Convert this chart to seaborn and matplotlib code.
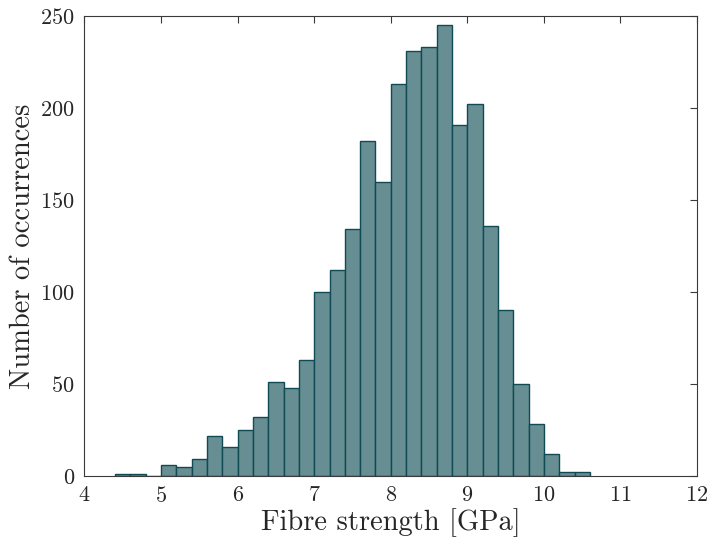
import numpy as np
import pandas as pd
import matplotlib
matplotlib.use("Agg")
import matplotlib.pyplot as plt
import seaborn as sns

# Data: histogram of fibre strength (bin width 0.2 GPa, first bin starts at 4.4 GPa)
bin_start = 4.4
bin_width = 0.2
counts = [1, 1, 0, 6, 5, 9, 22, 16, 25, 32, 51, 48, 63, 100, 112, 134, 182, 160,
          213, 231, 233, 245, 191, 202, 136, 90, 50, 28, 12, 2, 2]
x_ticks = [4, 5, 6, 7, 8, 9, 10, 11, 12]
y_ticks = [0, 50, 100, 150, 200, 250]
x_label = "Fibre strength [GPa]"
y_label = "Number of occurrences"

n_bins = len(counts)
centers = bin_start + bin_width * (np.arange(n_bins) + 0.5)
df = pd.DataFrame({"strength": centers, "count": counts})

sns.set_style("white")
plt.rcParams["font.family"] = "serif"
plt.rcParams["font.serif"] = ["cmr10"]
plt.rcParams["mathtext.fontset"] = "cm"
plt.rcParams["axes.formatter.use_mathtext"] = True

fig = plt.figure(figsize=(7.13, 5.44), dpi=100)
ax = fig.add_axes([0.1185, 0.125, 0.8591, 0.8456])

sns.histplot(data=df, x="strength", weights="count",
             binwidth=bin_width, binrange=(bin_start, bin_start + bin_width * n_bins),
             ax=ax, color="#678e92", alpha=1.0, edgecolor="#0f4a55", linewidth=1.0)

ax.set_xlim(4, 12)
ax.set_ylim(0, 250)
ax.set_xticks(x_ticks)
ax.set_yticks(y_ticks)
ax.set_xlabel(x_label, fontsize=20.5, labelpad=2)
ax.set_ylabel(y_label, fontsize=20.5, labelpad=3)
ax.tick_params(direction="in", length=5, width=0.8, color="#3a3a3a",
               labelsize=16, top=True, right=True, pad=7)
for s in ax.spines.values():
    s.set_color("#3a3a3a")
    s.set_linewidth(0.8)
    s.set_visible(True)

fig.savefig("out.png", dpi=100)
